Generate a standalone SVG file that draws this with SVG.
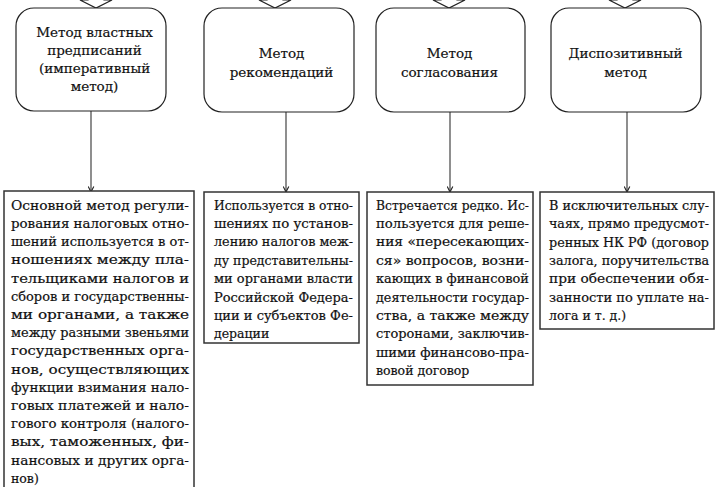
<svg xmlns="http://www.w3.org/2000/svg" width="716" height="487" viewBox="0 0 716 487">
<defs>
<style>
.rb{fill:#fff;stroke:#222;stroke-width:1.2}
.bx{fill:#fff;stroke:#333;stroke-width:1.5}
.hd{font-family:"DejaVu Serif","Liberation Serif",serif;font-size:13.5px;fill:#111;stroke:#111;stroke-width:0.2;text-anchor:middle}
.tx{font-family:"DejaVu Serif","Liberation Serif",serif;font-size:12.5px;fill:#111;stroke:#111;stroke-width:0.2}
.cn{stroke:#444;stroke-width:1.2;fill:none}
.ah{fill:#fff;stroke:#222;stroke-width:1.2}
</style>
<marker id="v" viewBox="0 0 10 10" refX="9" refY="5" markerWidth="7" markerHeight="7" orient="auto" markerUnits="userSpaceOnUse">
<path d="M1,1 L9,5 L1,9" fill="none" stroke="#222" stroke-width="1.6"/>
</marker>
</defs>
<rect width="716" height="487" fill="#fff"/>

<g id="top-arrows">
<polygon class="ah" points="88,-10 88,0 80,0 96,8 112,0 104,0 104,-10"/>
<polygon class="ah" points="267,-10 267,0 259,0 275,8 291,0 283,0 283,-10"/>
<polygon class="ah" points="441,-10 441,0 433,0 449,8 465,0 457,0 457,-10"/>
<polygon class="ah" points="617,-10 617,0 609,0 625,8 641,0 633,0 633,-10"/>
</g>

<g id="connectors">
<line class="cn" x1="91" y1="111" x2="91" y2="192" marker-end="url(#v)"/>
<line class="cn" x1="286" y1="112" x2="286" y2="192" marker-end="url(#v)"/>
<line class="cn" x1="450" y1="112" x2="450" y2="192" marker-end="url(#v)"/>
<line class="cn" x1="627" y1="112" x2="627" y2="192" marker-end="url(#v)"/>
</g>

<g id="m1">
<rect class="rb" x="16" y="8" width="150" height="103" rx="18"/>
<text class="hd" x="94.5" y="37">Метод властных</text>
<text class="hd" x="94.5" y="55">предписаний</text>
<text class="hd" x="94.5" y="73">(императивный</text>
<text class="hd" x="94.5" y="91">метод)</text>
</g>
<g id="m2">
<rect class="rb" x="204" y="8" width="150" height="104" rx="18"/>
<text class="hd" x="281.5" y="58">Метод</text>
<text class="hd" x="281.5" y="77">рекомендаций</text>
</g>
<g id="m3">
<rect class="rb" x="376" y="8" width="149" height="104" rx="18"/>
<text class="hd" x="449.5" y="58">Метод</text>
<text class="hd" x="449.5" y="77">согласования</text>
</g>
<g id="m4">
<rect class="rb" x="551" y="8" width="150" height="104" rx="18"/>
<text class="hd" x="625.5" y="58">Диспозитивный</text>
<text class="hd" x="625.5" y="77">метод</text>
</g>

<g id="d1">
<rect class="bx" x="4" y="191" width="190" height="310"/>
<g class="tx">
<text x="11" y="210" textLength="178" lengthAdjust="spacingAndGlyphs">Основной метод регули-</text>
<text x="11" y="228" textLength="178" lengthAdjust="spacingAndGlyphs">рования налоговых отно-</text>
<text x="11" y="246" textLength="178" lengthAdjust="spacingAndGlyphs">шений используется в от-</text>
<text x="11" y="264" textLength="178" lengthAdjust="spacingAndGlyphs">ношениях между пла-</text>
<text x="11" y="283" textLength="178" lengthAdjust="spacingAndGlyphs">тельщиками налогов и</text>
<text x="11" y="301" textLength="178" lengthAdjust="spacingAndGlyphs">сборов и государственны-</text>
<text x="11" y="319" textLength="178" lengthAdjust="spacingAndGlyphs">ми органами, а также</text>
<text x="11" y="337" textLength="178" lengthAdjust="spacingAndGlyphs">между разными звеньями</text>
<text x="11" y="355" textLength="178" lengthAdjust="spacingAndGlyphs">государственных орга-</text>
<text x="11" y="374" textLength="178" lengthAdjust="spacingAndGlyphs">нов, осуществляющих</text>
<text x="11" y="392" textLength="178" lengthAdjust="spacingAndGlyphs">функции взимания нало-</text>
<text x="11" y="410" textLength="178" lengthAdjust="spacingAndGlyphs">говых платежей и нало-</text>
<text x="11" y="428" textLength="178" lengthAdjust="spacingAndGlyphs">гового контроля (налого-</text>
<text x="11" y="446" textLength="178" lengthAdjust="spacingAndGlyphs">вых, таможенных, фи-</text>
<text x="11" y="465" textLength="178" lengthAdjust="spacingAndGlyphs">нансовых и других орга-</text>
<text x="11" y="483">нов)</text>
</g>
</g>

<g id="d2">
<rect class="bx" x="204" y="192" width="155" height="151"/>
<g class="tx">
<text x="214" y="210" textLength="139" lengthAdjust="spacingAndGlyphs">Используется в отно-</text>
<text x="214" y="228" textLength="139" lengthAdjust="spacingAndGlyphs">шениях по установ-</text>
<text x="214" y="246" textLength="139" lengthAdjust="spacingAndGlyphs">лению налогов меж-</text>
<text x="214" y="265" textLength="139" lengthAdjust="spacingAndGlyphs">ду представительны-</text>
<text x="214" y="283" textLength="139" lengthAdjust="spacingAndGlyphs">ми органами власти</text>
<text x="214" y="302" textLength="139" lengthAdjust="spacingAndGlyphs">Российской Федера-</text>
<text x="214" y="320" textLength="139" lengthAdjust="spacingAndGlyphs">ции и субъектов Фе-</text>
<text x="214" y="338">дерации</text>
</g>
</g>

<g id="d3">
<rect class="bx" x="367" y="192" width="166" height="193"/>
<g class="tx">
<text x="376" y="210" textLength="153" lengthAdjust="spacingAndGlyphs">Встречается редко. Ис-</text>
<text x="376" y="228" textLength="153" lengthAdjust="spacingAndGlyphs">пользуется для реше-</text>
<text x="376" y="246" textLength="153" lengthAdjust="spacingAndGlyphs">ния «пересекающих-</text>
<text x="376" y="265" textLength="153" lengthAdjust="spacingAndGlyphs">ся» вопросов, возни-</text>
<text x="376" y="283" textLength="153" lengthAdjust="spacingAndGlyphs">кающих в финансовой</text>
<text x="376" y="302" textLength="153" lengthAdjust="spacingAndGlyphs">деятельности государ-</text>
<text x="376" y="320" textLength="153" lengthAdjust="spacingAndGlyphs">ства, а также между</text>
<text x="376" y="338" textLength="153" lengthAdjust="spacingAndGlyphs">сторонами, заключив-</text>
<text x="376" y="357" textLength="153" lengthAdjust="spacingAndGlyphs">шими финансово-пра-</text>
<text x="376" y="375">вовой договор</text>
</g>
</g>

<g id="d4">
<rect class="bx" x="540" y="192" width="174" height="137"/>
<g class="tx">
<text x="549" y="210" textLength="160" lengthAdjust="spacingAndGlyphs">В исключительных слу-</text>
<text x="549" y="228" textLength="160" lengthAdjust="spacingAndGlyphs">чаях, прямо предусмот-</text>
<text x="549" y="247" textLength="160" lengthAdjust="spacingAndGlyphs">ренных НК РФ (договор</text>
<text x="549" y="265" textLength="160" lengthAdjust="spacingAndGlyphs">залога, поручительства</text>
<text x="549" y="283" textLength="160" lengthAdjust="spacingAndGlyphs">при обеспечении обя-</text>
<text x="549" y="302" textLength="160" lengthAdjust="spacingAndGlyphs">занности по уплате на-</text>
<text x="549" y="320">лога и т. д.)</text>
</g>
</g>
</svg>
